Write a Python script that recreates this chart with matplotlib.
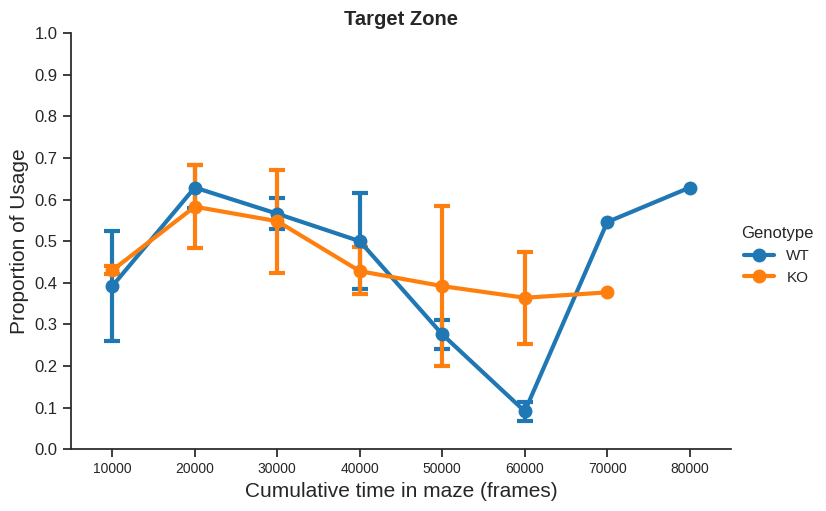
import numpy as np
import matplotlib
matplotlib.use('Agg')
import matplotlib.pyplot as plt
import seaborn as sns

sns.set_style('ticks')
plt.rcParams['font.family'] = ['Liberation Sans', 'DejaVu Sans']

times = ['10000', '20000', '30000', '40000', '50000', '60000', '70000', '80000']

wt_mean = [0.392, 0.629, 0.566, 0.500, 0.276, 0.091, 0.546, 0.629]
wt_low = [0.260, 0.580, 0.530, 0.385, 0.241, 0.068, np.nan, np.nan]
wt_high = [0.525, 0.683, 0.604, 0.616, 0.310, 0.113, np.nan, np.nan]

ko_times = times[:7]
ko_mean = [0.430, 0.583, 0.548, 0.428, 0.392, 0.364, 0.377]
ko_low = [0.420, 0.484, 0.424, 0.373, 0.200, 0.253, np.nan]
ko_high = [0.440, 0.683, 0.672, 0.486, 0.585, 0.475, np.nan]

fig = plt.figure(figsize=(8.26, 5.11), dpi=100)
ax = fig.add_axes([0.086, 0.121, 0.799, 0.814])

def draw(x, mean, low, high, color, label):
    mean = np.array(mean)
    err = [mean - np.array(low), np.array(high) - mean]
    ax.errorbar(x, mean, yerr=err, color=color, lw=3, marker='o', ms=9,
                capsize=6, capthick=3, elinewidth=3, label=label)

draw(times, wt_mean, wt_low, wt_high, '#1f77b4', 'WT')
draw(ko_times, ko_mean, ko_low, ko_high, '#ff7f0e', 'KO')

ax.set_xlim(-0.5, 7.5)
ax.set_ylim(0, 1)
ax.set_yticks(np.arange(0, 1.01, 0.1))
ax.tick_params(axis='both', length=6, width=1.25, color='.15', direction='out')
ax.tick_params(axis='y', labelsize=12)
ax.tick_params(axis='x', labelsize=10)
for s in ax.spines.values():
    s.set_linewidth(1.25)
    s.set_color('.15')
ax.set_xlabel('Cumulative time in maze (frames)', fontsize=15)
ax.set_ylabel('Proportion of Usage', fontsize=15)
ax.set_title('Target Zone', fontsize=14.5, fontweight='bold')
sns.despine(ax=ax)

handles, labels = ax.get_legend_handles_labels()
handles = [h[0] for h in handles]
fig.legend(handles, labels, title='Genotype', loc='center left',
           bbox_to_anchor=(0.88, 0.5), frameon=False, fontsize=11,
           title_fontsize=12)

fig.savefig('out.png', dpi=100)
